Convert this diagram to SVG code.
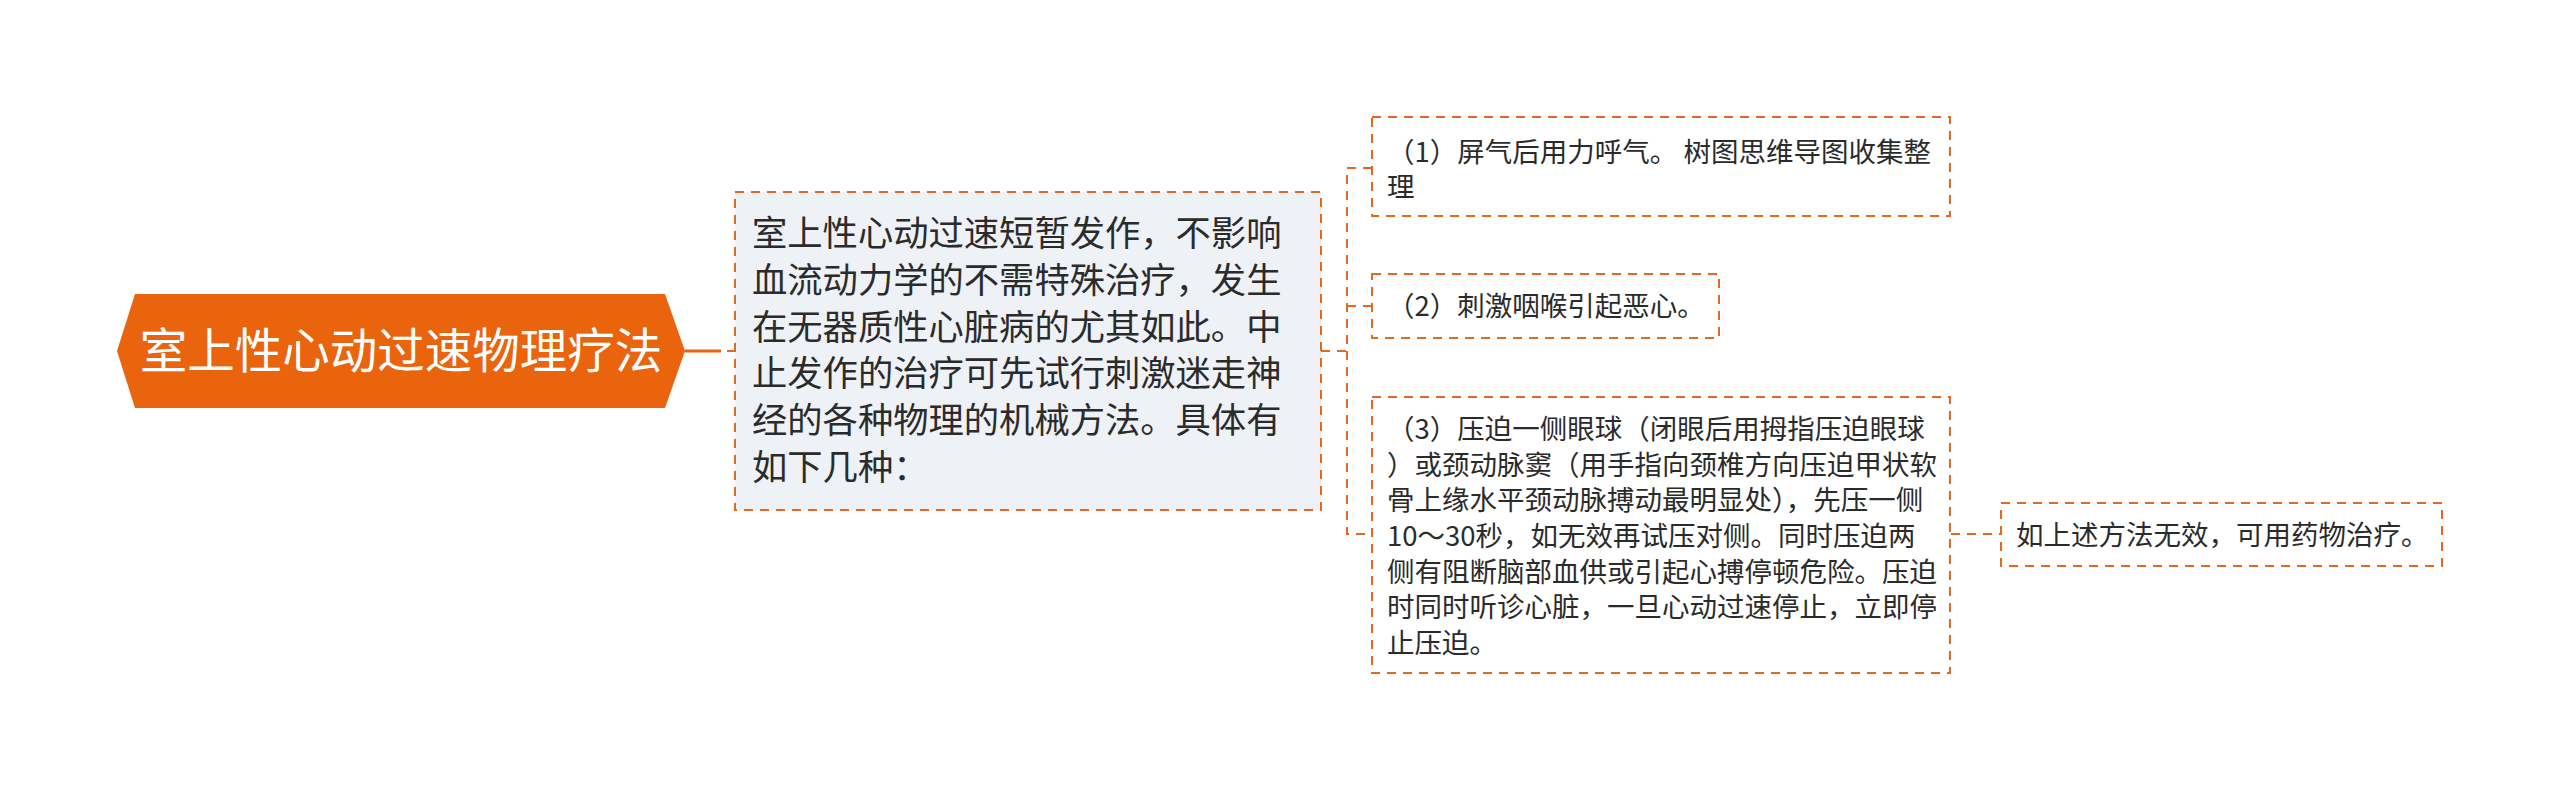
<svg xmlns="http://www.w3.org/2000/svg" width="2560" height="791" viewBox="0 0 2560 791">
<style>
.t{font-family:"Noto Sans CJK SC","Noto Sans",sans-serif;fill:#2b2b2b}
.root{font-family:"Noto Sans CJK SC","Noto Sans",sans-serif;fill:#ffffff;font-size:47.5px}
.main{font-size:35.3px}
.sm{font-size:27.5px}
.box{fill:#ffffff;stroke:#E2691E;stroke-width:2;stroke-dasharray:9 7}
.mbox{fill:#EEF1F5;stroke:#E2691E;stroke-width:2;stroke-dasharray:9 7}
.dash{fill:none;stroke:#E2691E;stroke-width:2;stroke-dasharray:9 7}
</style>
<rect width="2560" height="791" fill="#ffffff"/>
<g id="connectors">
<line x1="685" y1="351" x2="721" y2="351" stroke="#E9640C" stroke-width="3"/>
<line x1="727" y1="351" x2="735" y2="351" stroke="#E2691E" stroke-width="2"/>
<path class="dash" d="M1321 351 H1347"/>
<path class="dash" d="M1372 168 H1347 V534 H1372"/>
<path class="dash" d="M1347 306 H1372"/>
<path class="dash" d="M1951 534 H2001"/>
</g>
<g id="root">
<polygon points="117,351 135,294 665,294 685,351 665,408 135,408" fill="#E9640C"/>
<text class="root" x="401" y="368" text-anchor="middle">室上性心动过速物理疗法</text>
</g>
<g id="main">
<rect class="mbox" x="735" y="192" width="586" height="318"/>
<text class="t main">
<tspan x="752" y="246">室上性心动过速短暂发作，不影响</tspan>
<tspan x="752" y="293">血流动力学的不需特殊治疗，发生</tspan>
<tspan x="752" y="340">在无器质性心脏病的尤其如此。中</tspan>
<tspan x="752" y="386">止发作的治疗可先试行刺激迷走神</tspan>
<tspan x="752" y="433">经的各种物理的机械方法。具体有</tspan>
<tspan x="752" y="480">如下几种：</tspan>
</text>
</g>
<g id="n1">
<rect class="box" x="1372" y="117" width="578" height="99"/>
<text class="t sm">
<tspan x="1387" y="162">（1）屏气后用力呼气。 树图思维导图收集整</tspan>
<tspan x="1387" y="197">理</tspan>
</text>
</g>
<g id="n2">
<rect class="box" x="1372" y="274" width="347" height="64"/>
<text class="t sm" x="1387" y="316">（2）刺激咽喉引起恶心。</text>
</g>
<g id="n3">
<rect class="box" x="1372" y="397" width="578" height="276"/>
<text class="t sm">
<tspan x="1387" y="439">（3）压迫一侧眼球（闭眼后用拇指压迫眼球</tspan>
<tspan x="1387" y="475">）或颈动脉窦（用手指向颈椎方向压迫甲状软</tspan>
<tspan x="1387" y="510">骨上缘水平颈动脉搏动最明显处），先压一侧</tspan>
<tspan x="1387" y="546">10～30秒，如无效再试压对侧。同时压迫两</tspan>
<tspan x="1387" y="582">侧有阻断脑部血供或引起心搏停顿危险。压迫</tspan>
<tspan x="1387" y="617">时同时听诊心脏，一旦心动过速停止，立即停</tspan>
<tspan x="1387" y="653">止压迫。</tspan>
</text>
</g>
<g id="n4">
<rect class="box" x="2001" y="503" width="441" height="63"/>
<text class="t sm" x="2016" y="545">如上述方法无效，可用药物治疗。</text>
</g>
</svg>
